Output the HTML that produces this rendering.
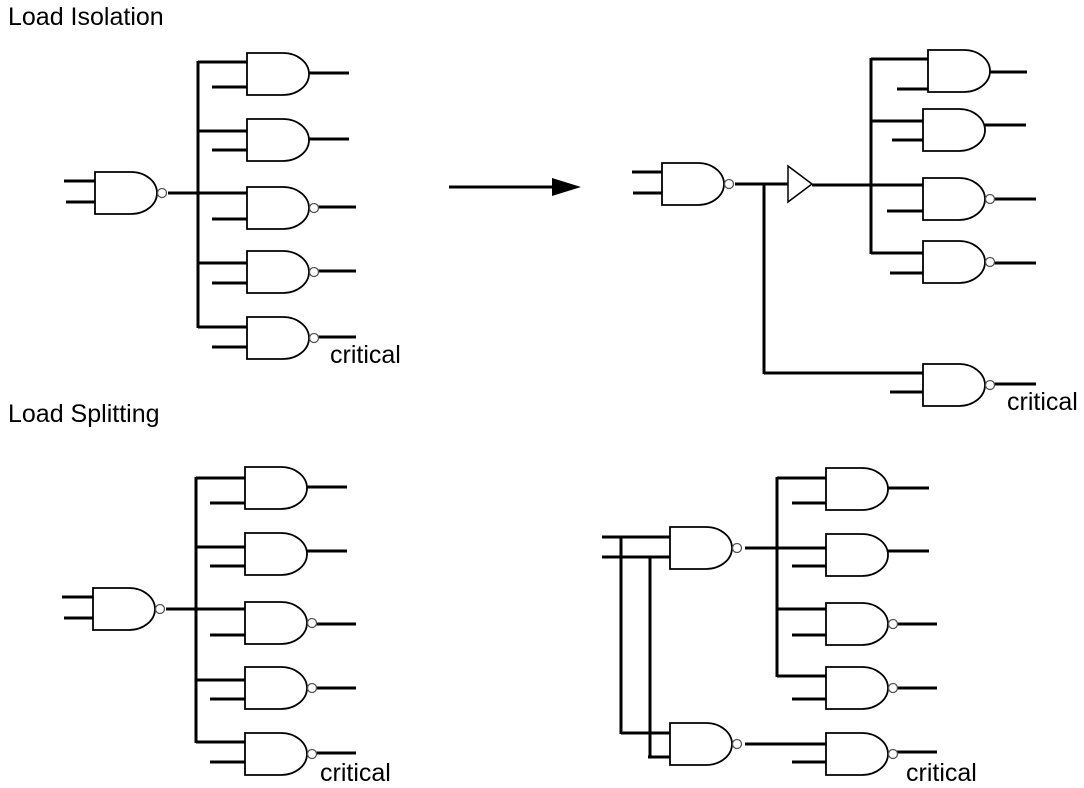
<!DOCTYPE html>
<html><head><meta charset="utf-8"><style>
html,body{margin:0;padding:0;background:#fff;}
svg{display:block;}
text{font-family:"Liberation Sans",sans-serif;fill:#000;}
</style></head><body>
<svg width="1084" height="788" viewBox="0 0 1084 788" xmlns="http://www.w3.org/2000/svg">
<defs>
<path id="g" d="M0,0 H36 A26,21 0 0 1 36,42 H0 Z" fill="#fff" stroke="#000" stroke-width="1.8"/>
<g id="n"><use href="#g"/><circle cx="67" cy="21" r="4.5" fill="#fff" stroke="#555" stroke-width="1.3"/></g>
</defs>
<text x="8" y="25" font-size="25">Load Isolation</text>
<text x="8" y="422" font-size="25">Load Splitting</text>
<text x="330" y="363" font-size="25">critical</text>
<text x="1007" y="410" font-size="25">critical</text>
<text x="320" y="781" font-size="25">critical</text>
<text x="906" y="781" font-size="25">critical</text>

<g stroke="#000" stroke-width="3" fill="none">
<path d="M64,181H97 M66,202H95 M168,193H198 M198,61V328 M198,62H249 M198,131H249 M198,193H249 M198,263H249 M198,327H249
M212,87H247 M212,150H247 M212,219H247 M212,283H247 M212,347H247
M309,73H349 M309,139H349 M318,207H356 M318,271H356 M318,337H356"/>
<path d="M62,597H95 M64,618H93 M166,609H196 M196,477V743 M196,478H247 M196,547H247 M196,609H247 M196,680H247 M196,742H247
M210,503H245 M210,566H245 M210,635H245 M210,699H245 M210,762H245
M307,487H347 M307,551H347 M316,624H356 M316,688H356 M316,753H356"/>
<path d="M449,187H555"/>
<path d="M632,172H665 M633,193H662 M735,184H788 M764,184V374 M764,373H925 M812,185H872 M871,58V254
M871,59H930 M871,121H925 M871,185H925 M871,253H926
M897,89H928 M892,140H923 M887,211H923 M890,273H923 M890,392H923
M990,72H1027 M985,125H1026 M994,199H1036 M994,263H1036 M994,384H1036"/>
<path d="M602,537H673 M602,557H670 M621,537V734 M650,557V758 M621,733H673 M648,757H672
M745,548H777 M777,477V677 M777,478H828 M777,548H828 M777,609H828 M777,676H828 M745,744H828
M792,503H826 M792,566H826 M792,635H826 M792,699H826 M792,762H826
M888,488H929 M888,551H929 M897,624H937 M897,688H937 M897,752H937"/>
</g>
<polygon points="552,178 581,187 552,196" fill="#000"/>
<polygon points="788,166 812,184 788,202" fill="#fff" stroke="#000" stroke-width="1.5"/>

<use href="#n" x="95" y="172"/>
<use href="#g" x="247" y="53"/>
<use href="#g" x="247" y="119"/>
<use href="#n" x="247" y="187"/>
<use href="#n" x="247" y="251"/>
<use href="#n" x="247" y="317"/>
<use href="#n" x="93" y="588"/>
<use href="#g" x="245" y="467"/>
<use href="#g" x="245" y="533"/>
<use href="#n" x="245" y="602"/>
<use href="#n" x="245" y="667"/>
<use href="#n" x="245" y="733"/>
<use href="#n" x="662" y="163"/>
<use href="#g" x="928" y="50"/>
<use href="#g" x="923" y="109"/>
<use href="#n" x="923" y="178"/>
<use href="#n" x="923" y="241"/>
<use href="#n" x="923" y="364"/>
<use href="#n" x="670" y="527"/>
<use href="#n" x="670" y="723"/>
<use href="#g" x="826" y="468"/>
<use href="#g" x="826" y="534"/>
<use href="#n" x="826" y="603"/>
<use href="#n" x="826" y="667"/>
<use href="#n" x="826" y="733"/>
</svg>
</body></html>
